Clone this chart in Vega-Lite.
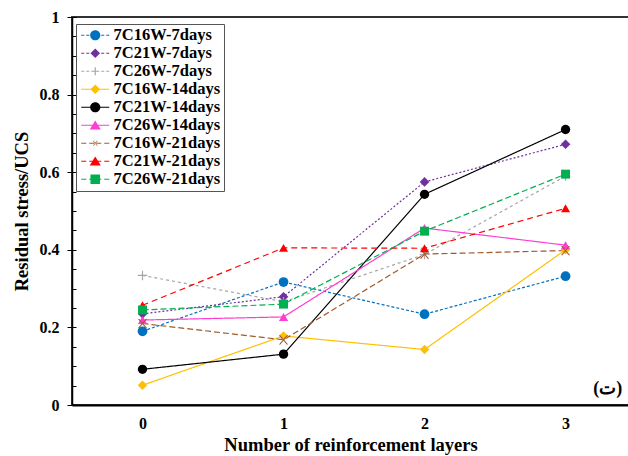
{
  "$schema": "https://vega.github.io/schema/vega-lite/v6.json",
  "width": 557,
  "height": 388,
  "autosize": {"type": "none"},
  "padding": {"left": 72, "top": 17, "right": 0, "bottom": 51},
  "background": "white",
  "data": {
    "values": [
      {"series": "7C16W-7days", "layers": 0, "ratio": 0.19},
      {"series": "7C16W-7days", "layers": 1, "ratio": 0.317},
      {"series": "7C16W-7days", "layers": 2, "ratio": 0.234},
      {"series": "7C16W-7days", "layers": 3, "ratio": 0.332},
      {"series": "7C21W-7days", "layers": 0, "ratio": 0.235},
      {"series": "7C21W-7days", "layers": 1, "ratio": 0.279},
      {"series": "7C21W-7days", "layers": 2, "ratio": 0.575},
      {"series": "7C21W-7days", "layers": 3, "ratio": 0.672},
      {"series": "7C26W-7days", "layers": 0, "ratio": 0.334},
      {"series": "7C26W-7days", "layers": 1, "ratio": 0.266},
      {"series": "7C26W-7days", "layers": 2, "ratio": 0.388},
      {"series": "7C26W-7days", "layers": 3, "ratio": 0.59},
      {"series": "7C16W-14days", "layers": 0, "ratio": 0.051},
      {"series": "7C16W-14days", "layers": 1, "ratio": 0.178},
      {"series": "7C16W-14days", "layers": 2, "ratio": 0.143},
      {"series": "7C16W-14days", "layers": 3, "ratio": 0.4},
      {"series": "7C21W-14days", "layers": 0, "ratio": 0.092},
      {"series": "7C21W-14days", "layers": 1, "ratio": 0.131},
      {"series": "7C21W-14days", "layers": 2, "ratio": 0.543},
      {"series": "7C21W-14days", "layers": 3, "ratio": 0.71},
      {"series": "7C26W-14days", "layers": 0, "ratio": 0.219},
      {"series": "7C26W-14days", "layers": 1, "ratio": 0.227},
      {"series": "7C26W-14days", "layers": 2, "ratio": 0.456},
      {"series": "7C26W-14days", "layers": 3, "ratio": 0.412},
      {"series": "7C16W-21days", "layers": 0, "ratio": 0.21},
      {"series": "7C16W-21days", "layers": 1, "ratio": 0.168},
      {"series": "7C16W-21days", "layers": 2, "ratio": 0.389},
      {"series": "7C16W-21days", "layers": 3, "ratio": 0.398},
      {"series": "7C21W-21days", "layers": 0, "ratio": 0.257},
      {"series": "7C21W-21days", "layers": 1, "ratio": 0.405},
      {"series": "7C21W-21days", "layers": 2, "ratio": 0.404},
      {"series": "7C21W-21days", "layers": 3, "ratio": 0.507},
      {"series": "7C26W-21days", "layers": 0, "ratio": 0.245},
      {"series": "7C26W-21days", "layers": 1, "ratio": 0.26},
      {"series": "7C26W-21days", "layers": 2, "ratio": 0.448},
      {"series": "7C26W-21days", "layers": 3, "ratio": 0.595}
    ]
  },
  "layer": [
    {
      "mark": {"type": "line", "strokeWidth": 1.2},
      "encoding": {
        "x": {
          "field": "layers", "type": "quantitative",
          "scale": {"domain": [-0.5, 3.45], "nice": false, "zero": false},
          "axis": {"values": [0, 1, 2, 3], "format": "d", "ticks": false, "domainWidth": 2, "labelPadding": 10, "title": "Number of reinforcement  layers", "titlePadding": 4}
        },
        "y": {
          "field": "ratio", "type": "quantitative",
          "scale": {"domain": [0, 1], "nice": false},
          "axis": {"values": [0, 0.2, 0.4, 0.6, 0.8, 1], "format": ".1~f", "tickSize": 5, "domainWidth": 1.5, "labelPadding": 8, "title": "Residual stress/UCS", "titlePadding": 8}
        },
        "color": {
          "field": "series", "type": "nominal", "legend": null,
          "scale": {
            "domain": ["7C16W-7days", "7C21W-7days", "7C26W-7days", "7C16W-14days", "7C21W-14days", "7C26W-14days", "7C16W-21days", "7C21W-21days", "7C26W-21days"],
            "range": ["#0070C0", "#7030A0", "#A5A5A5", "#FFC000", "#000000", "#FF3DD2", "#9E5A2B", "#FF0000", "#00B050"]
          }
        },
        "strokeDash": {
          "field": "series", "type": "nominal", "legend": null,
          "scale": {
            "domain": ["7C16W-7days", "7C21W-7days", "7C26W-7days", "7C16W-14days", "7C21W-14days", "7C26W-14days", "7C16W-21days", "7C21W-21days", "7C26W-21days"],
            "range": [[3, 2], [2, 2], [3, 3], [1, 0], [1, 0], [1, 0], [6, 3], [6, 4], [6, 3]]
          }
        }
      }
    },
    {
      "mark": {"type": "point", "filled": true, "opacity": 1, "strokeWidth": 0},
      "encoding": {
        "x": {
          "field": "layers", "type": "quantitative",
          "axis": {"values": [0, 1, 2, 3], "format": "d", "ticks": false, "domainWidth": 2, "labelPadding": 10, "title": "Number of reinforcement  layers", "titlePadding": 4}
        },
        "y": {
          "field": "ratio", "type": "quantitative",
          "axis": {"values": [0, 0.05, 0.1, 0.15, 0.2, 0.25, 0.3, 0.35, 0.4, 0.45, 0.5, 0.55, 0.6, 0.65, 0.7, 0.75, 0.8, 0.85, 0.9, 0.95, 1], "tickSize": -4, "labels": false, "domain": false, "title": null, "orient": "left"}
        },
        "color": {"field": "series", "type": "nominal", "legend": null},
        "shape": {
          "field": "series", "type": "nominal", "legend": null,
          "scale": {
            "domain": ["7C16W-7days", "7C21W-7days", "7C26W-7days", "7C16W-14days", "7C21W-14days", "7C26W-14days", "7C16W-21days", "7C21W-21days", "7C26W-21days"],
            "range": [
              "circle", "diamond",
              "M-1,-0.12L1,-0.12L1,0.12L-1,0.12Z M-0.12,-1L0.12,-1L0.12,1L-0.12,1Z",
              "diamond", "circle", "triangle-up",
              "M-1,-1L-0.7,-1L1,1L0.7,1Z M0.7,-1L1,-1L-0.7,1L-1,1Z",
              "triangle-up", "square"
            ]
          }
        },
        "size": {
          "field": "series", "type": "nominal", "legend": null,
          "scale": {
            "domain": ["7C16W-7days", "7C21W-7days", "7C26W-7days", "7C16W-14days", "7C21W-14days", "7C26W-14days", "7C16W-21days", "7C21W-21days", "7C26W-21days"],
            "range": [95, 80, 64, 85, 100, 110, 40, 110, 90]
          }
        }
      }
    },
    {
      "mark": {"type": "point", "filled": true, "opacity": 0},
      "encoding": {
        "x": {
          "field": "layers", "type": "quantitative",
          "axis": {"values": [0, 1, 2, 3], "format": "d", "ticks": false, "domainWidth": 2, "labelPadding": 10, "title": "Number of reinforcement  layers", "titlePadding": 4}
        },
        "y": {"field": "ratio", "type": "quantitative", "axis": null},
        "fill": {
          "field": "series", "type": "nominal",
          "scale": {
            "domain": ["7C16W-7days", "7C21W-7days", "7C26W-7days", "7C16W-14days", "7C21W-14days", "7C26W-14days", "7C16W-21days", "7C21W-21days", "7C26W-21days"],
            "range": ["#0070C0", "#7030A0", "#A5A5A5", "#FFC000", "#000000", "#FF3DD2", "#9E5A2B", "#FF0000", "#00B050"]
          },
          "legend": {"title": null, "orient": "none", "legendX": 4, "legendY": 7, "symbolSize": 144, "symbolOffset": 8, "labelOffset": 10, "padding": 3, "rowPadding": 1, "strokeColor": "#555555", "fillColor": "#ffffff", "symbolStrokeWidth": 0, "symbolOpacity": 1}
        },
        "shape": {
          "field": "series", "type": "nominal",
          "scale": {
            "domain": ["7C16W-7days", "7C21W-7days", "7C26W-7days", "7C16W-14days", "7C21W-14days", "7C26W-14days", "7C16W-21days", "7C21W-21days", "7C26W-21days"],
            "range": [
              "M-2.333,-0.1L-1.833,-0.1L-1.833,0.1L-2.333,0.1Z M-1.5,-0.1L-1,-0.1L-1,0.1L-1.5,0.1Z M-0.667,-0.1L-0.167,-0.1L-0.167,0.1L-0.667,0.1Z M0.167,-0.1L0.667,-0.1L0.667,0.1L0.167,0.1Z M1,-0.1L1.5,-0.1L1.5,0.1L1,0.1Z M1.833,-0.1L2.333,-0.1L2.333,0.1L1.833,0.1Z M-0.85,0A0.85,0.85,0,1,1,0.85,0A0.85,0.85,0,1,1,-0.85,0Z",
              "M-2.333,-0.1L-1.833,-0.1L-1.833,0.1L-2.333,0.1Z M-1.5,-0.1L-1,-0.1L-1,0.1L-1.5,0.1Z M-0.667,-0.1L-0.167,-0.1L-0.167,0.1L-0.667,0.1Z M0.167,-0.1L0.667,-0.1L0.667,0.1L0.167,0.1Z M1,-0.1L1.5,-0.1L1.5,0.1L1,0.1Z M1.833,-0.1L2.333,-0.1L2.333,0.1L1.833,0.1Z M0,-0.8L0.8,0L0,0.8L-0.8,0Z",
              "M-2.333,-0.1L-1.833,-0.1L-1.833,0.1L-2.333,0.1Z M-1.5,-0.1L-1,-0.1L-1,0.1L-1.5,0.1Z M-0.667,-0.1L-0.167,-0.1L-0.167,0.1L-0.667,0.1Z M0.167,-0.1L0.667,-0.1L0.667,0.1L0.167,0.1Z M1,-0.1L1.5,-0.1L1.5,0.1L1,0.1Z M1.833,-0.1L2.333,-0.1L2.333,0.1L1.833,0.1Z M-0.67,-0.1L0.67,-0.1L0.67,0.1L-0.67,0.1Z M-0.1,-0.67L0.1,-0.67L0.1,0.67L-0.1,0.67Z",
              "M-2.333,-0.1L2.333,-0.1L2.333,0.1L-2.333,0.1Z M0,-0.8L0.8,0L0,0.8L-0.8,0Z",
              "M-2.333,-0.1L2.333,-0.1L2.333,0.1L-2.333,0.1Z M-0.85,0A0.85,0.85,0,1,1,0.85,0A0.85,0.85,0,1,1,-0.85,0Z",
              "M-2.333,-0.1L2.333,-0.1L2.333,0.1L-2.333,0.1Z M0,-0.8L0.92,0.7L-0.92,0.7Z",
              "M-2.333,-0.1L-1.5,-0.1L-1.5,0.1L-2.333,0.1Z M-1,-0.1L-0.167,-0.1L-0.167,0.1L-1,0.1Z M0.167,-0.1L1,-0.1L1,0.1L0.167,0.1Z M1.5,-0.1L2.333,-0.1L2.333,0.1L1.5,0.1Z M-0.42,-0.42L-0.28,-0.42L0.42,0.42L0.28,0.42Z M0.28,-0.42L0.42,-0.42L-0.28,0.42L-0.42,0.42Z",
              "M-2.333,-0.1L-1.5,-0.1L-1.5,0.1L-2.333,0.1Z M-1,-0.1L-0.167,-0.1L-0.167,0.1L-1,0.1Z M0.167,-0.1L1,-0.1L1,0.1L0.167,0.1Z M1.5,-0.1L2.333,-0.1L2.333,0.1L1.5,0.1Z M0,-0.8L0.92,0.7L-0.92,0.7Z",
              "M-2.333,-0.1L-1.5,-0.1L-1.5,0.1L-2.333,0.1Z M-1,-0.1L-0.167,-0.1L-0.167,0.1L-1,0.1Z M0.167,-0.1L1,-0.1L1,0.1L0.167,0.1Z M1.5,-0.1L2.333,-0.1L2.333,0.1L1.5,0.1Z M-0.8,-0.8L0.8,-0.8L0.8,0.8L-0.8,0.8Z"
            ]
          },
          "legend": {"title": null, "orient": "none", "legendX": 4, "legendY": 7, "symbolSize": 144, "symbolOffset": 8, "labelOffset": 10, "padding": 3, "rowPadding": 1, "strokeColor": "#555555", "fillColor": "#ffffff", "symbolStrokeWidth": 0, "symbolOpacity": 1}
        }
      }
    },
    {
      "data": {"values": [{"note": "(ت)"}]},
      "mark": {"type": "text", "font": "Liberation Serif", "fontSize": 18, "fontWeight": "bold", "align": "center", "baseline": "middle", "color": "#000000"},
      "encoding": {
        "x": {
          "datum": 3.3, "type": "quantitative",
          "axis": {"values": [0, 1, 2, 3], "format": "d", "ticks": false, "domainWidth": 2, "labelPadding": 10, "title": "Number of reinforcement  layers", "titlePadding": 4}
        },
        "y": {"datum": 0.04, "type": "quantitative", "axis": null},
        "text": {"field": "note", "type": "nominal"}
      }
    }
  ],
  "resolve": {
    "scale": {"shape": "independent", "fill": "independent"},
    "axis": {"y": "independent"}
  },
  "config": {
    "view": {"stroke": "#333333", "strokeWidth": 2},
    "axis": {
      "grid": false,
      "labelFont": "Liberation Serif", "labelFontSize": 16, "labelFontWeight": "bold", "labelColor": "#000000",
      "titleFont": "Liberation Serif", "titleFontSize": 18.5, "titleFontWeight": "bold", "titleColor": "#000000",
      "domainColor": "#000000", "tickColor": "#000000"
    },
    "legend": {
      "labelFont": "Liberation Serif", "labelFontSize": 16.5, "labelFontWeight": "bold", "labelColor": "#000000"
    }
  }
}
